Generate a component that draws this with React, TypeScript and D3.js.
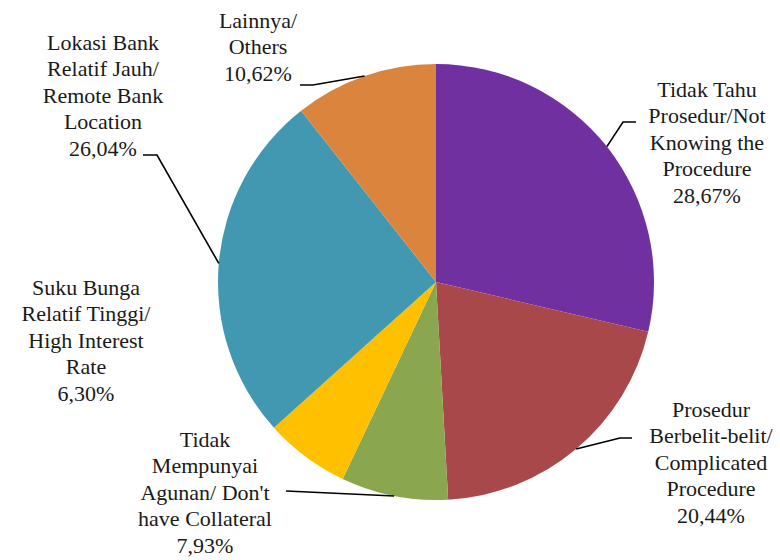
import React from "react";
import * as d3 from "d3";

const categories = [
  "Tidak Tahu Prosedur/Not Knowing the Procedure",
  "Prosedur Berbelit-belit/ Complicated Procedure",
  "Tidak Mempunyai Agunan/ Don't have Collateral",
  "Suku Bunga Relatif Tinggi/ High Interest Rate",
  "Lokasi Bank Relatif Jauh/ Remote Bank Location",
  "Lainnya/ Others",
];
const values = [28.67, 20.44, 7.93, 6.3, 26.04, 10.62];
const valueLabels = ["28,67%", "20,44%", "7,93%", "6,30%", "26,04%", "10,62%"];
const labelLines = [
  ["Tidak Tahu", "Prosedur/Not", "Knowing the", "Procedure"],
  ["Prosedur", "Berbelit-belit/", "Complicated", "Procedure"],
  ["Tidak", "Mempunyai", "Agunan/ Don't", "have Collateral"],
  ["Suku Bunga", "Relatif Tinggi/", "High Interest", "Rate"],
  ["Lokasi Bank", "Relatif Jauh/", "Remote Bank", "Location"],
  ["Lainnya/", "Others"],
];
const colors = ["#7030A0", "#A9484A", "#8AA750", "#FFC000", "#4398B1", "#DB843D"];

// layout: label centre x, first line centre y, leader elbow (null = no leader)
const labelPos = [
  { x: 707, y: 89, elbow: [623, 122], end: [636, 122] },
  { x: 711, y: 409, elbow: [620, 438], end: [632, 438] },
  { x: 205, y: 439, elbow: null, end: [286, 491] },
  { x: 86, y: 287, elbow: null, end: null },
  { x: 103, y: 42, elbow: [157, 155], end: [143, 155] },
  { x: 258, y: 20, elbow: [313, 85], end: [300, 85] },
];

const W = 780;
const H = 560;
const cx = 436;
const cy = 282;
const R = 218;
const lineH = 26.6;

export default function App() {
  const pie = d3.pie<number>().sort(null).value((d) => d);
  const arcs = pie(values);
  const arc = d3.arc<d3.PieArcDatum<number>>().innerRadius(0).outerRadius(R);
  return (
    <svg
      width={W}
      height={H}
      style={{ position: "absolute", left: 0, top: 0, background: "#fff" }}
    >
      <g transform={`translate(${cx},${cy})`}>
        {arcs.map((a, i) => (
          <path key={i} d={arc(a) || ""} fill={colors[i]} aria-label={categories[i]} />
        ))}
      </g>
      {arcs.map((a, i) => {
        const p = labelPos[i];
        if (!p.end) return null;
        const mid = (a.startAngle + a.endAngle) / 2;
        const sx = cx + R * Math.sin(mid);
        const sy = cy - R * Math.cos(mid);
        const pts = [[sx, sy]];
        if (p.elbow) pts.push(p.elbow as number[]);
        pts.push(p.end as number[]);
        return (
          <path
            key={"l" + i}
            d={d3.line()(pts as [number, number][]) || ""}
            fill="none"
            stroke="#000"
            strokeWidth={1.6}
          />
        );
      })}
      {labelLines.map((lines, i) => {
        const p = labelPos[i];
        const all = [...lines, valueLabels[i]];
        return (
          <text
            key={"t" + i}
            textAnchor="middle"
            fill="#1a1a1a"
            style={{ fontFamily: "'Liberation Serif'", fontSize: "22px" }}
          >
            {all.map((s, j) => (
              <tspan key={j} x={p.x} y={p.y + j * lineH + 7.5}>
                {s}
              </tspan>
            ))}
          </text>
        );
      })}
    </svg>
  );
}
